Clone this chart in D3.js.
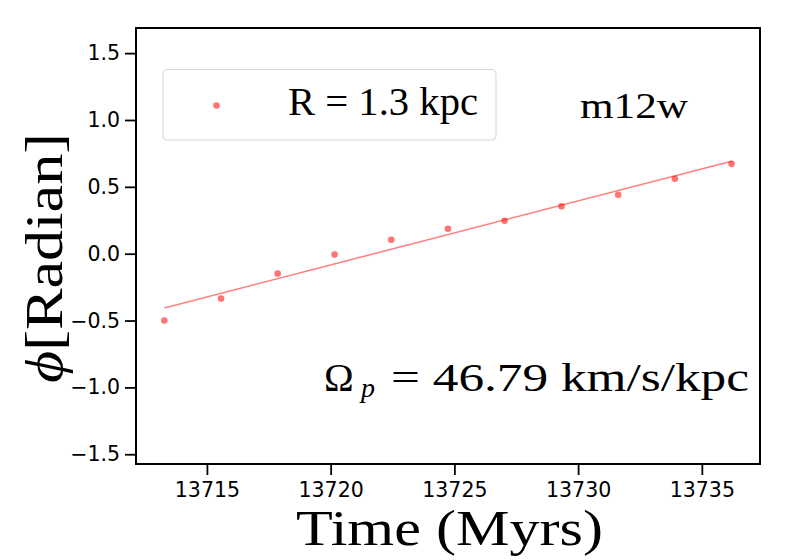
<!DOCTYPE html>
<html>
<head>
<meta charset="utf-8">
<script src="https://cdn.jsdelivr.net/npm/d3@7/dist/d3.min.js"></script>
<style>
  html, body { margin: 0; padding: 0; background: #fff; }
  svg { display: block; }
</style>
</head>
<body>
<svg id="chart" width="800" height="560"></svg>
<script>
// ---- data ----
const times = [13713.28, 13715.57, 13717.86, 13720.16, 13722.45, 13724.74, 13727.03, 13729.33, 13731.62, 13733.91, 13736.20];
const phi = [-0.500, -0.336, -0.149, -0.007, 0.104, 0.187, 0.246, 0.354, 0.440, 0.560, 0.672];
const xTicks = [13715, 13720, 13725, 13730, 13735];
const yTicks = [-1.5, -1.0, -0.5, 0.0, 0.5, 1.0, 1.5];
const xDomain = [13712.135, 13737.35];
const yDomain = [-1.573, 1.688];
const legendLabel = "R = 1.3 kpc";
const galaxyLabel = "m12w";
const omegaValue = "46.79";

// ---- layout ----
const svg = d3.select("#chart");
const L = 136, R = 760, T = 28, B = 464;
const x = d3.scaleLinear().domain(xDomain).range([L, R]);
const y = d3.scaleLinear().domain(yDomain).range([B, T]);
const serif = "'Liberation Serif', 'DejaVu Serif', serif";
const sans = "'DejaVu Sans', sans-serif";

// ---- linear fit (least squares) ----
const n = times.length;
const mx = d3.mean(times), my = d3.mean(phi);
let sxy = 0, sxx = 0;
for (let i = 0; i < n; i++) { sxy += (times[i]-mx)*(phi[i]-my); sxx += (times[i]-mx)**2; }
const slope = sxy / sxx, icpt = my - slope*mx;
const fit = [times[0], times[n-1]].map(t => [t, icpt + slope*t]);

svg.append("path")
  .datum(fit)
  .attr("d", d3.line().x(d => x(d[0])).y(d => y(d[1])))
  .attr("fill", "none")
  .attr("stroke", "#ff0000")
  .attr("stroke-opacity", 0.5)
  .attr("stroke-width", 1.5);

svg.append("g").selectAll("circle")
  .data(times.map((t, i) => [t, phi[i]]))
  .join("circle")
  .attr("cx", d => x(d[0]))
  .attr("cy", d => y(d[1]))
  .attr("r", 3.3)
  .attr("fill", "#ff0000")
  .attr("fill-opacity", 0.55);

// ---- axes ----
const xAxis = svg.append("g").attr("transform", `translate(0,${B})`)
  .call(d3.axisBottom(x).tickValues(xTicks).tickFormat(d3.format("d")).tickSize(11).tickPadding(7));
const yAxis = svg.append("g").attr("transform", `translate(${L},0)`)
  .call(d3.axisLeft(y).tickValues(yTicks).tickFormat(d => d3.format(".1f")(d).replace("-", "\u2212")).tickSize(11).tickPadding(5));
[xAxis, yAxis].forEach(g => {
  g.select(".domain").remove();
  g.selectAll(".tick line").attr("stroke", "#000").attr("stroke-width", 1.8);
  g.selectAll(".tick text").attr("font-family", sans).attr("font-size", 20.5).attr("fill", "#000");
});

// frame
svg.append("rect")
  .attr("x", L).attr("y", T).attr("width", R-L).attr("height", B-T)
  .attr("fill", "none").attr("stroke", "#000").attr("stroke-width", 2);

// ---- legend ----
svg.append("rect")
  .attr("x", 163).attr("y", 69.5).attr("width", 333).attr("height", 70.5)
  .attr("rx", 4).attr("ry", 4)
  .attr("fill", "#fff").attr("fill-opacity", 0.8)
  .attr("stroke", "#d6d6d6").attr("stroke-width", 1);
svg.append("circle")
  .attr("cx", 216.5).attr("cy", 105.5).attr("r", 3.3)
  .attr("fill", "#ff0000").attr("fill-opacity", 0.55);
svg.append("text")
  .attr("x", 288).attr("y", 115)
  .attr("font-family", serif).attr("font-size", 39)
  .attr("textLength", 190).attr("lengthAdjust", "spacingAndGlyphs")
  .text(legendLabel);

// galaxy name
svg.append("text")
  .attr("x", 580).attr("y", 117.5)
  .attr("font-family", serif).attr("font-size", 36)
  .attr("textLength", 108).attr("lengthAdjust", "spacingAndGlyphs")
  .text(galaxyLabel);

// pattern speed annotation
svg.append("text")
  .attr("x", 324).attr("y", 391)
  .attr("font-family", serif).attr("font-size", 40)
  .text("\u03A9");
svg.append("text")
  .attr("x", 361).attr("y", 397)
  .attr("font-family", serif).attr("font-size", 28).attr("font-style", "italic")
  .text("p");
svg.append("text")
  .attr("x", 391).attr("y", 391)
  .attr("font-family", serif).attr("font-size", 40)
  .attr("textLength", 358).attr("lengthAdjust", "spacingAndGlyphs")
  .text(`= ${omegaValue} km/s/kpc`);

// ---- axis labels ----
svg.append("text")
  .attr("x", 296).attr("y", 545)
  .attr("font-family", serif).attr("font-size", 50)
  .attr("textLength", 307).attr("lengthAdjust", "spacingAndGlyphs")
  .text("Time (Myrs)");

const yl = svg.append("text")
  .attr("transform", "translate(62,383) rotate(-90)")
  .attr("font-family", serif).attr("font-size", 52)
  .attr("textLength", 250).attr("lengthAdjust", "spacingAndGlyphs");
yl.append("tspan").attr("font-style", "italic").text("\u03D5");
yl.append("tspan").text("[Radian]");
</script>
</body>
</html>
